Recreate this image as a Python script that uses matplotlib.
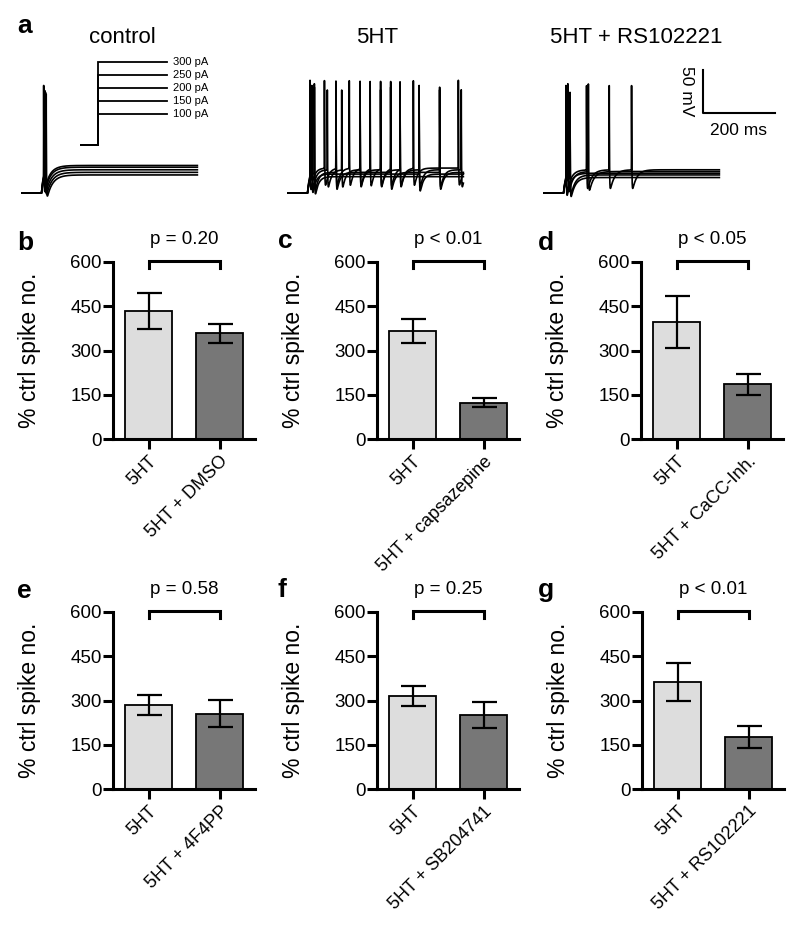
import numpy as np
import matplotlib
matplotlib.use('Agg')
import matplotlib.pyplot as plt

plt.rcParams['font.family'] = ['Liberation Sans', 'DejaVu Sans']

W, H = 800, 936

# ---- panel a: spike times (ms) per current step ----
currents = [100, 150, 200, 250, 300]
trace_titles = ['control', '5HT', '5HT + RS102221']

ctrl_spikes = [[70], [68], [66], [64], [63]]
ctrl_plateau = [-44, -41, -38, -35, -33]
ctrl_peak = [50, 52, 54, 56, 60]

ht_spikes = [[76],
             [69, 367],
             [76, 136, 288, 424],
             [69, 112, 152, 203, 260, 314, 367, 424, 484],
             [64, 104, 136, 173, 203, 231, 260, 288, 314, 351, 476]]
ht_plateau = [-46, -43, -41, -38, -36]
ht_peak = [62, 60, 58, 55, 66]

rs_spikes = [[75], [75], [64], [69, 126], [64, 121, 184, 246]]
rs_plateau = [-47, -44, -42, -40, -38]
rs_peak = [50, 52, 58, 62, 60]

# ---- bar panels b-g ----
panel_letters = ['b', 'c', 'd', 'e', 'f', 'g']
drug_labels = ['5HT + DMSO', '5HT + capsazepine', '5HT + CaCC-Inh.',
               '5HT + 4F4PP', '5HT + SB204741', '5HT + RS102221']
ht_means = [433, 367, 397, 285, 316, 362]
ht_sem = [61, 40, 88, 35, 33, 65]
drug_means = [358, 123, 186, 255, 252, 176]
drug_sem = [31, 15, 36, 46, 44, 36]
p_labels = ['p = 0.20', 'p < 0.01', 'p < 0.05', 'p = 0.58', 'p = 0.25', 'p < 0.01']

REST = -65
ONSET = 57
t = np.arange(0, 490, 0.1)


def make_trace(plateau, spikes, peak, tau_ahp):
    v = np.full_like(t, REST, dtype=float)
    on = t >= ONSET
    v[on] = REST + (plateau - REST) * (1 - np.exp(-(t[on] - ONSET) / 6.0))
    base = v.copy()
    for ts in spikes:
        s = t - ts
        v0 = np.interp(ts, t, base)
        rise = (s >= -0.6) & (s < 0)
        v[rise] += (peak - v0) * (1 + s[rise] / 0.6) ** 2
        dec = s >= 0
        v[dec] += (peak - v0) * np.exp(-s[dec] / 0.7)
        v[dec] -= 30 * (1 - np.exp(-s[dec] / 0.8)) * np.exp(-s[dec] / tau_ahp)
    return v


fig = plt.figure(figsize=(W / 100, H / 100), dpi=100)


def px_axes(x0, y_top, w, h):
    return fig.add_axes([x0 / W, (H - y_top - h) / H, w / W, h / H])


# 50 mV = 43 px and 200 ms = 72 px
MS_PX = 200 / 72
MV_PX = 50 / 43
trace_w = 252
ylo = REST - 7 * MV_PX
yhi = ylo + 140 * MV_PX

groups = [(ctrl_spikes, ctrl_plateau, ctrl_peak, 16.0),
          (ht_spikes, ht_plateau, ht_peak, 9.0),
          (rs_spikes, rs_plateau, rs_peak, 12.0)]
lefts = [21, 287, 543]
trace_axes = []
for (sp, pl, pk, ta), x0 in zip(groups, lefts):
    ax = px_axes(x0, 60, trace_w, 140)
    for i in range(len(currents)):
        ax.plot(t, make_trace(pl[i], sp[i], pk[i], ta), color='black', lw=1.2)
    ax.set_xlim(0, trace_w * MS_PX)
    ax.set_ylim(ylo, yhi)
    ax.axis('off')
    trace_axes.append(ax)

title_x = [122, 377, 636]
for ttl, xc in zip(trace_titles, title_x):
    fig.text(xc / W, 1 - 43 / H, ttl, ha='center', va='baseline', fontsize=16)
fig.text(17 / W, 1 - 33 / H, 'a', fontsize=19, fontweight='bold', va='baseline')

# current step inset (0 pA at y=140 px, 0.26 px per pA)
inset = px_axes(81, 55, 86, 85)
step_ms = 86 * MS_PX
for c in currents:
    inset.plot([0, 47, 47, step_ms], [-20, -20, c, c], color='black', lw=1.3,
               solid_joinstyle='miter', clip_on=False)
    inset.annotate('%d pA' % c, xy=(step_ms, c), xytext=(4, 0),
                   textcoords='offset points', va='center', ha='left', fontsize=8,
                   annotation_clip=False)
inset.set_xlim(0, step_ms)
inset.set_ylim(0, 85 / 0.26)
inset.axis('off')

# scale bar
sb = trace_axes[2]
bx = (703 - 543) * MS_PX
by = REST + (193 - 113) * MV_PX
sb.plot([bx, bx, bx + 200], [by + 50, by, by], color='black', lw=1.5, clip_on=False)
sb.text(bx - 9 * MS_PX, by + 25, '50 mV', rotation=270, ha='right',
        va='center', fontsize=12.5)
sb.text(bx + 100, by - 20, '200 ms', ha='center', va='center', fontsize=12.5)

# ---- bar charts ----
ax_pos = [(113, 262), (377, 262), (641, 262), (113, 612), (377, 612), (642, 612)]
letter_pos = [(17, 250), (278, 248), (538, 250), (17, 598), (278, 597), (538, 597)]
for k in range(6):
    x0, ytop = ax_pos[k]
    ax = px_axes(x0, ytop, 142, 177)
    xs = [0, 1]
    ax.bar(xs, [ht_means[k], drug_means[k]], width=0.66,
           color=['#dddddd', '#777777'], edgecolor='black', linewidth=1.3, zorder=2)
    ax.errorbar(xs, [ht_means[k], drug_means[k]], yerr=[ht_sem[k], drug_sem[k]],
                fmt='none', ecolor='black', elinewidth=1.6, capsize=9, capthick=1.6,
                zorder=3)
    ax.set_xlim(-0.5, 1.5)
    ax.set_ylim(0, 600)
    ax.set_yticks([0, 150, 300, 450, 600])
    ax.set_xticks(xs)
    ax.set_xticklabels(['5HT', drug_labels[k]], rotation=45, ha='right',
                       rotation_mode='anchor', fontsize=13)
    ax.tick_params(axis='y', labelsize=13.5, length=7, width=2.2, pad=1)
    ax.tick_params(axis='x', length=7, width=2.2, pad=3)
    for s in ['top', 'right']:
        ax.spines[s].set_visible(False)
    for s in ['left', 'bottom']:
        ax.spines[s].set_linewidth(2.2)
    ax.set_ylabel('% ctrl spike no.', fontsize=16.5)
    ax.yaxis.set_label_coords(-0.51, 0.5)
    # significance bracket
    ax.plot([0, 0, 1, 1], [578, 603, 603, 578], color='black', lw=2.2,
            clip_on=False, solid_joinstyle='miter')
    ax.text(0.5, 676, p_labels[k], ha='center', va='center', fontsize=13.5)
    lx, ly = letter_pos[k]
    fig.text(lx / W, 1 - ly / H, panel_letters[k], fontsize=19, fontweight='bold',
             va='baseline')

fig.savefig('out.png', dpi=100)
